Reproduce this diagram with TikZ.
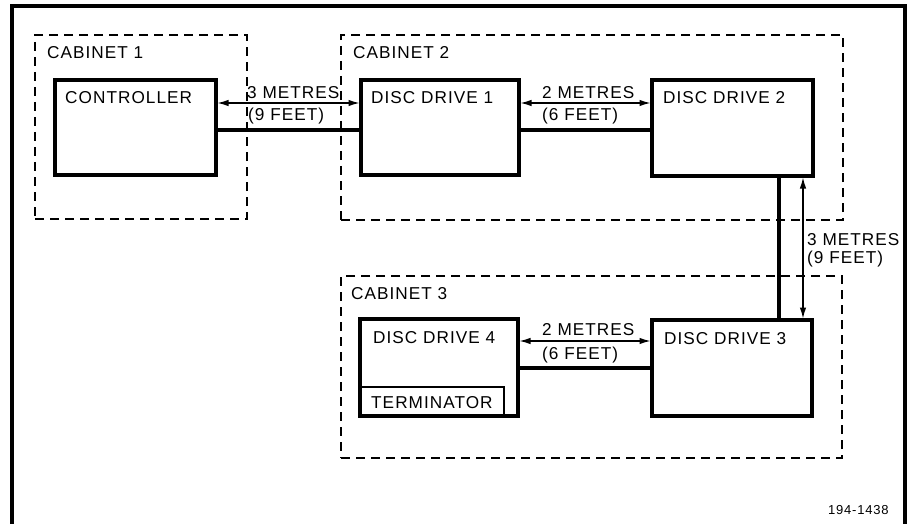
\documentclass[tikz,border=0pt]{standalone}
\usepackage{fontspec}
\setmainfont{Liberation Sans}[LetterSpace=6]
\usetikzlibrary{arrows.meta}
\tikzset{
  unitbox/.style={draw, line width=3.5pt, inner sep=0pt, outer sep=0pt, anchor=north west},
  cabinet/.style={draw, line width=2pt, dash pattern=on 9pt off 6pt, inner sep=0pt, outer sep=0pt, anchor=north west},
  lbl/.style={anchor=base west, inner sep=0pt, font=\fontsize{17.2pt}{19pt}\selectfont},
  small/.style={anchor=base west, inner sep=0pt, font=\fontsize{13pt}{15pt}\selectfont},
  cable/.style={line width=4pt},
  dimarrow/.style={line width=1.3pt, {Latex[length=11pt,width=6.5pt]}-{Latex[length=11pt,width=6.5pt]}, shorten <=1.5pt, shorten >=1.5pt},
  frameline/.style={line width=4pt}
}
\begin{document}
\begin{tikzpicture}[x=1pt,y=-1pt]
\useasboundingbox (0,0) rectangle (910,524);
% frame
\coordinate (fbl) at (12,526);
\coordinate (ftl) at (12,6);
\coordinate (ftr) at (905,6);
\coordinate (fbr) at (905,526);
\draw[frameline] (fbl) -- (ftl) -- (ftr) -- (fbr);
% cabinets
\node[cabinet, minimum width=212pt, minimum height=184pt] (cab1) at (35,35) {};
\node[cabinet, minimum width=502pt, minimum height=185pt] (cab2) at (341,35) {};
\node[cabinet, minimum width=501pt, minimum height=182pt] (cab3) at (341,276) {};
\node[lbl] (cab1L) at (47,59) {CABINET 1};
\node[lbl] (cab2L) at (353,59) {CABINET 2};
\node[lbl] (cab3L) at (351,299) {CABINET 3};
% units
\node[unitbox, minimum width=161pt, minimum height=95pt] (ctrl) at (55,80) {};
\node[unitbox, minimum width=158pt, minimum height=95pt] (dd1) at (361,80) {};
\node[unitbox, minimum width=161pt, minimum height=96pt] (dd2) at (652,80) {};
\node[unitbox, minimum width=160pt, minimum height=96pt] (dd3) at (652,320) {};
\node[unitbox, minimum width=158pt, minimum height=97pt] (dd4) at (360,319) {};
\node[unitbox, minimum width=144pt, minimum height=29pt, line width=2.8pt] (term) at (360,387) {};
\node[lbl] (ctrlL) at (65,104) {CONTROLLER};
\node[lbl] (dd1L) at (371,104) {DISC DRIVE 1};
\node[lbl] (dd2L) at (663,104) {DISC DRIVE 2};
\node[lbl] (dd3L) at (664,344) {DISC DRIVE 3};
\node[lbl] (dd4L) at (373,343) {DISC DRIVE 4};
\node[lbl] (termL) at (371,408) {TERMINATOR};
% helper levels
\coordinate (ya) at (0,103);
\coordinate (yc) at (0,130);
\coordinate (yb) at (0,341);
\coordinate (yd) at (0,368);
\coordinate (xc) at (779,0);
\coordinate (xa) at (803,0);
% connectors
\draw[dimarrow] (ctrl.east |- ya) -- (dd1.west |- ya);
\draw[cable] (ctrl.east |- yc) -- (dd1.west |- yc);
\draw[dimarrow] (dd1.east |- ya) -- (dd2.west |- ya);
\draw[cable] (dd1.east |- yc) -- (dd2.west |- yc);
\draw[dimarrow] (dd4.east |- yb) -- (dd3.west |- yb);
\draw[cable] (dd4.east |- yd) -- (dd3.west |- yd);
\draw[cable] (dd2.south -| xc) -- (dd3.north -| xc);
\draw[dimarrow] (dd2.south -| xa) -- (dd3.north -| xa);
% length labels
\node[lbl] (m1) at (247,99) {3 METRES};
\node[lbl] (f1) at (248,121) {(9 FEET)};
\node[lbl] (m2) at (542,99) {2 METRES};
\node[lbl] (f2) at (542,121) {(6 FEET)};
\node[lbl] (m3) at (542,335) {2 METRES};
\node[lbl] (f3) at (542,359) {(6 FEET)};
\node[lbl] (m4) at (807,245) {3 METRES};
\node[lbl] (f4) at (807,263) {(9 FEET)};
\node[small] (fig) at (828,514) {194-1438};
\end{tikzpicture}
\end{document}
